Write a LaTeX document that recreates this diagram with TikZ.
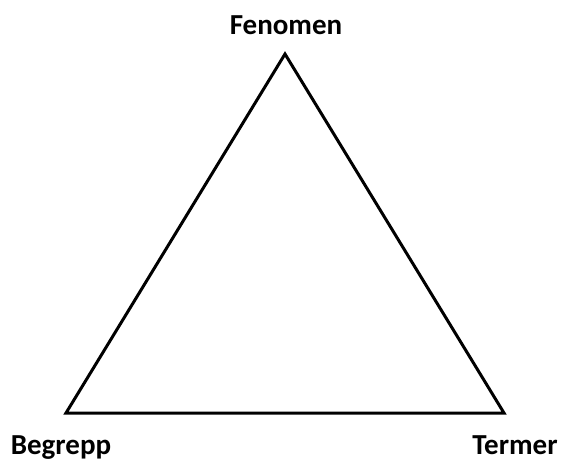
\documentclass[tikz,border=0pt]{standalone}
\usepackage{fontspec}
\setmainfont{Carlito}
\begin{document}
\begin{tikzpicture}[x=1pt,y=-1pt,line cap=round,line join=miter,font=\fontsize{29}{32}\selectfont\bfseries]
\tikzset{
  cornerlabel/.style={inner sep=0pt,anchor=base},
  edgeline/.style={draw=black,line width=3pt}
}
\useasboundingbox (0,0) rectangle (562,461);

\coordinate (fenomen) at (285,54);
\coordinate (begrepp) at (66,413);
\coordinate (termer) at (504,413);

\draw[edgeline] (fenomen) -- (termer) -- (begrepp) -- cycle;

\node[cornerlabel] (fenomentext) at (286,34) {Fenomen};
\node[cornerlabel] (begrepptext) at (61,454) {Begrepp};
\node[cornerlabel] (termertext) at (515,454) {Termer};
\end{tikzpicture}
\end{document}
